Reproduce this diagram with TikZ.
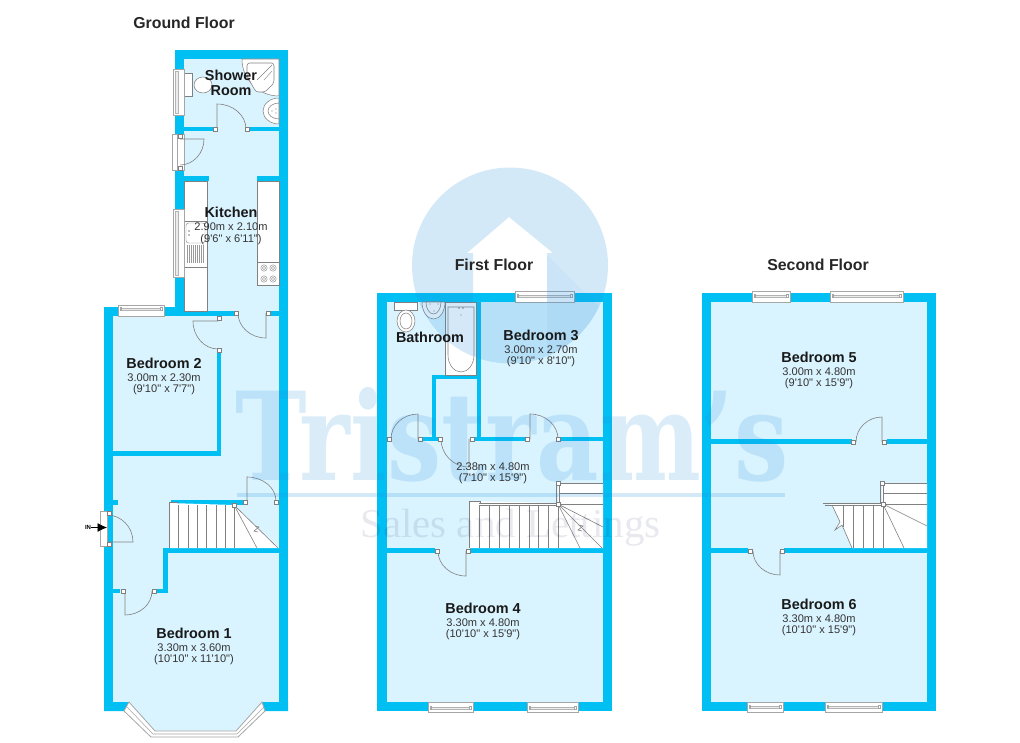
\documentclass[tikz,border=0pt]{standalone}
\usepackage{fontspec}
\usetikzlibrary{arrows.meta}
\newfontfamily\plansans{Liberation Sans}
\newfontfamily\planserif{Liberation Serif}
\newfontfamily\markserif{DejaVu Serif}
\definecolor{roomcol}{HTML}{DAF4FF}
\definecolor{wallcol}{HTML}{00BFF3}
\definecolor{linecol}{HTML}{808080}
\definecolor{markcol}{HTML}{2A8FDC}
\tikzset{
    wallfill/.style={fill=wallcol},
    doorline/.style={draw=linecol,line width=.45pt},
    postbox/.style={draw=linecol,fill=white,line width=.4pt},
    winbox/.style={draw=linecol!70,fill=white,line width=.4pt},
    winbar/.style={draw=linecol!60,fill=gray!15,line width=.3pt},
    fixture/.style={draw=linecol,fill=white,line width=.4pt},
    stairline/.style={draw=linecol,line width=.45pt},
    floortitle/.style={font=\plansans\bfseries\fontsize{11.9}{13}\selectfont,text=black!85},
    roomname/.style={anchor=base,inner sep=0pt,font=\plansans\bfseries\fontsize{10.8}{12}\selectfont,text=black!90},
    roomdim/.style={anchor=base,inner sep=0pt,font=\plansans\fontsize{8.3}{10}\selectfont,text=black!80},
    watermark/.style={fill=markcol,opacity=.2,text=markcol,text opacity=.17},
}
\newcommand{\wall}[2]{\fill[wallfill] #1 rectangle #2;}
\newcommand{\post}[1]{\draw[postbox,shift={#1}] (-2,-2) rectangle (2,2);}
\newcommand{\door}[4]{\draw[doorline,shift={#1}] (0,0) -- (#2:#4) arc (#2:#3:#4);}
\newcommand{\winh}[5]{
    \draw[winbox] (#1,#3) rectangle (#2,#4);
    \draw[winbar] (#1+2,#5-1.2) rectangle (#2-2,#5+1.2);
    \draw[winbox] (#1+2,#5-1.5) rectangle (#1+3.5,#5+1.5);
    \draw[winbox] (#2-3.5,#5-1.5) rectangle (#2-2,#5+1.5);
}
\newcommand{\winv}[5]{
    \draw[winbox] (#1,#3) rectangle (#2,#4);
    \draw[winbar] (#5-1.5,#3+2) rectangle (#5+1.5,#4-2);
}
\newcommand{\roomlabel}[5]{
    \node[roomname] (#1) at #2 {#3};
    \node[roomdim] (#1dim) at ([yshift=-9.9pt]#1.base) {#4};
    \node[roomdim] (#1imp) at ([yshift=-18.4pt]#1.base) {#5};
}
\begin{document}
\begin{tikzpicture}[x=.75pt,y=-.75pt]
    \useasboundingbox (0,0) rectangle (1020,742);

    % floors
    \fill[roomcol] (184,59) -- (279,59) -- (279,702) -- (262,702) -- (236,731) -- (155,731) -- (129,702)
        -- (113,702) -- (113,316) -- (184,316) -- cycle;
    \fill[roomcol] (387,302) rectangle (603,702);
    \fill[roomcol] (711,302) rectangle (927,702);

    % ground floor walls
    \wall{(175,50)}{(288,59)}
    \wall{(279,50)}{(288,711)}
    \wall{(175,50)}{(184,312)}
    \wall{(184,127)}{(213,131)}
    \wall{(248,127)}{(279,131)}
    \wall{(184,176)}{(209,181)}
    \wall{(257,176)}{(279,181)}
    \wall{(104,307)}{(184,316)}
    \wall{(184,311)}{(234,316)}
    \wall{(266,311)}{(279,316)}
    \wall{(104,307)}{(113,702)}
    \wall{(217,316)}{(221,318)}
    \wall{(217,350)}{(221,456)}
    \wall{(113,451)}{(221,456)}
    \wall{(113,500)}{(118,505)}
    \wall{(171,500)}{(247,505)}
    \wall{(163,548)}{(279,553)}
    \wall{(163,548)}{(168,593)}
    \wall{(157,589)}{(168,593)}
    \wall{(113,589)}{(120,593)}
    \fill[wallfill] (104,702) -- (129,702) -- (124,711) -- (104,711) -- cycle;
    \fill[wallfill] (262,702) -- (288,702) -- (288,711) -- (265,711) -- cycle;

    % bay window
    \draw[winbox,line width=.6pt] (129,702) -- (124,711) -- (151,737) -- (238,737) -- (265,711) -- (262,702)
        -- (236,731) -- (155,731) -- cycle;
    \draw[linecol!70,line width=.4pt] (127,707) -- (153,734) -- (237,734) -- (264,707);

    % kitchen
    \draw[fixture] (184,181) rectangle (207,311);
    \draw[fixture] (257,181) rectangle (279,262);
    \draw[fixture] (257,262) rectangle (279,285);
    \foreach \hx/\hy in {264/268,273/268,264/279,273/279} {
        \draw[linecol,line width=.3pt] (\hx,\hy) circle (3.2);
        \draw[linecol,line width=.3pt] (\hx,\hy) circle (1.6);
    }
    \draw[fixture] (184,221) rectangle (207,267);
    \draw[linecol,line width=.3pt,rounded corners=2pt] (186,223) rectangle (205,243);
    \foreach \dx in {187,189,...,203} {
        \draw[linecol!80,line width=.25pt] (\dx,245) -- (\dx,263);
    }
    \fill[linecol] (189,231) circle (.8) (189,235) circle (.8);

    % shower room
    \draw[fixture] (279,59) -- (242,59) arc (180:90:37) -- cycle;
    \draw[fixture,rounded corners=2pt] (247,63) -- (274,63) -- (274,83) -- (265,92) -- (256,92) -- (247,76) -- cycle;
    \draw[linecol,line width=.3pt] (257,80) -- (272,65) (272,71) -- (264,80);
    \draw[fixture] (184,73) rectangle (192,96);
    \draw[fixture] (203,85) ellipse (9 and 8);
    \draw[fixture] (279,98) arc (270:90:16 and 13) -- cycle;
    \draw[fixture] (279,103) arc (270:90:11 and 8) -- cycle;
    \fill[linecol] (276,109) circle (.7) (276,113) circle (.7) (272,111) circle (.6);

    % ground floor windows and frames
    \winv{173}{184}{69}{115}{177}
    \winv{173}{184}{209}{277}{177}
    \winh{118}{164}{305}{316}{309}
    \draw[winbox] (172,134) rectangle (177,170);
    \draw[winbox] (177,134) rectangle (184,170);
    \draw[winbox] (100,511) rectangle (107,546);

    % ground floor stairs
    \fill[white] (169,503) -- (234,505) -- (279,548) -- (169,548) -- cycle;
    \draw[stairline] (169,548) -- (169,502) -- (178,502);
    \foreach \sx in {178,188,197,206,216,225,234} {
        \draw[stairline] (\sx,505) -- (\sx,548);
    }
    \draw[stairline] (234,505) -- (257,548) (234,505) -- (278,548);
    \draw[stairline] (255,526) -- (259,527) -- (254,531) -- (258,532);
    \post{(234.5,505)}

    % ground floor doors
    \door{(217,129)}{270}{360}{29 and 25}
    \door{(180,139)}{0}{90}{24 and 26}
    \door{(266,313)}{90}{180}{28 and 25}
    \door{(218,321)}{180}{90}{25 and 28}
    \door{(247,501)}{270}{360}{29 and 24}
    \door{(107,542)}{0}{-90}{26 and 27}
    \door{(125,591)}{90}{0}{27 and 24}
    \foreach \p in {(215,129),(247,129),(236,313),(268,313),(219,318),(219,350),(245,502),(276,502),
        (109,513),(109,544),(123,591),(154,591),(180,136),(180,168)} {
        \post{\p}
    }

    % first floor walls
    \wall{(377,293)}{(612,302)}
    \wall{(377,293)}{(387,711)}
    \wall{(603,293)}{(612,711)}
    \wall{(377,702)}{(612,711)}
    \wall{(432,375)}{(481,379)}
    \wall{(432,375)}{(436,441)}
    \wall{(477,302)}{(481,441)}
    \wall{(422,437)}{(438,441)}
    \wall{(472,437)}{(527,441)}
    \wall{(560,437)}{(603,441)}
    \wall{(387,548)}{(435,553)}
    \wall{(470,548)}{(603,553)}

    % bathroom
    \draw[fixture] (445,302) rectangle (476,375);
    \draw[fixture] (448,307) -- (474,307) -- (474,355) arc (0:180:13 and 17) -- cycle;
    \fill[linecol] (459,308) circle (.9) (463,308) circle (.9) (461,315) circle (.7);
    \draw[fixture] (394,302) rectangle (417,310);
    \draw[fixture] (406,321) ellipse (9 and 11);
    \draw[fixture] (406,321) ellipse (6 and 8);
    \draw[fixture] (422,302) arc (180:0:11.5 and 17) -- cycle;
    \draw[fixture] (426,302) arc (180:0:7.5 and 12) -- cycle;
    \fill[linecol] (430,304) circle (.7) (438,304) circle (.7) (434,311) circle (.6);

    % first floor windows
    \winh{515}{574}{291}{302}{296}
    \winh{428}{473}{702}{712}{708}
    \winh{527}{578}{702}{712}{708}

    % first floor stairs
    \fill[white] (469,501) -- (558,503) -- (558,483) -- (603,483) -- (603,548) -- (469,548) -- cycle;
    \draw[stairline] (469,548) -- (469,501) -- (480,501) -- (480,504);
    \draw[stairline] (479,503) -- (558,503) (479,505) -- (558,505);
    \foreach \sx in {479,489,499,509,519,529,538,548,558} {
        \draw[stairline] (\sx,505) -- (\sx,548);
    }
    \draw[stairline] (558,483) -- (603,483) (560,493) -- (603,493) (558,504) -- (603,504);
    \draw[stairline] (556.5,483) -- (556.5,504) (559.5,483) -- (559.5,504);
    \draw[stairline] (558,504) -- (603,527) (558,504) -- (602,548) (558,504) -- (580,548);
    \draw[stairline] (579,525) -- (583,526) -- (578,530) -- (582,531);
    \post{(558,483)}
    \post{(558,504)}

    % first floor doors
    \door{(418,439)}{270}{180}{27 and 25}
    \door{(469,439)}{90}{180}{28 and 28}
    \door{(530,439)}{270}{360}{28 and 25}
    \door{(466,551)}{90}{180}{28 and 25}
    \foreach \p in {(389,439),(420,439),(440,439),(472,439),(527,439),(558,439),(437,551),(468,551)} {
        \post{\p}
    }

    % second floor walls
    \wall{(702,293)}{(936,302)}
    \wall{(702,293)}{(711,711)}
    \wall{(927,293)}{(936,711)}
    \wall{(702,702)}{(936,711)}
    \wall{(711,439)}{(852,444)}
    \wall{(887,439)}{(927,444)}
    \wall{(711,548)}{(748,553)}
    \wall{(784,548)}{(927,553)}

    % second floor windows
    \winh{752}{790}{291}{302}{296}
    \winh{830}{903}{291}{302}{296}
    \winh{747}{783}{702}{712}{707}
    \winh{825}{882}{702}{712}{707}

    % second floor stairs
    \fill[white] (823,503) -- (882,503) -- (882,483) -- (927,483) -- (927,548) -- (852,548)
        -- (842,525) -- (835,530) -- (840,522) -- (832,505) -- cycle;
    \draw[stairline] (823,503) -- (882,503) (825,505) -- (882,505);
    \draw[stairline] (832,505) -- (840,522) -- (835,530) -- (842,525) -- (852,548);
    \foreach \sx/\sy in {843/527,853/548,863/548,873/548,883/548} {
        \draw[stairline] (\sx,505) -- (\sx,\sy);
    }
    \draw[stairline] (882,483) -- (927,483) (884,493) -- (927,493) (882,504) -- (927,504);
    \draw[stairline] (880.5,483) -- (880.5,504) (883.5,483) -- (883.5,504);
    \draw[stairline] (883,504) -- (927,526) (883,504) -- (904,548);
    \post{(882,483)}
    \post{(883,504)}

    % second floor doors
    \door{(882,442)}{270}{180}{26 and 25}
    \door{(780,551)}{90}{180}{27 and 24}
    \foreach \p in {(853,442),(884,442),(750,551),(782,551)} {
        \post{\p}
    }

    % logo over the plans
    \fill[watermark,even odd rule] (510,265.5) circle (98)
        (509,217) -- (553,253) -- (547,253) -- (547,302) -- (473,302) -- (473,253) -- (467,253) -- cycle;
    \begin{scope}
        \clip (510,265.5) circle (98);
        \fill[markcol,opacity=.05] (547,255) -- (625,333) -- (625,380) -- (547,380) -- cycle;
    \end{scope}
    \node[watermark,fill=none,inner sep=0pt,anchor=base west,xscale=.785,
        font=\markserif\bfseries\fontsize{92}{92}\selectfont] (logoname) at (235,480) {Tristram’s};
    \fill[watermark] (237,493) rectangle (785,497);
    \node[inner sep=0pt,anchor=base west,text=black!70!blue,text opacity=.09,
        font=\planserif\fontsize{30.7}{32}\selectfont] (logotag) at (360,537) {Sales and Lettings};

    % entrance
    \node[inner sep=0pt,font=\plansans\bfseries\fontsize{4.5}{5}\selectfont] (inlabel) at (88,527.5) {IN};
    \coordinate (inTip) at (107,527.5);
    \draw[black,line width=.4pt,-{Latex[length=7pt,width=6.5pt]}] (inlabel) -- (inTip);

    % titles
    \node[floortitle] (groundtitle) at (184,23) {Ground Floor};
    \node[floortitle] (firsttitle) at (494,265) {First Floor};
    \node[floortitle] (secondtitle) at (818,265) {Second Floor};

    % rooms
    \node[roomname] (shower) at (231,80) {Shower};
    \node[roomname] (showerb) at (231,95) {Room};
    \roomlabel{kitchen}{(231,217.5)}{Kitchen}{2.90m x 2.10m}{(9'6" x 6'11")}
    \roomlabel{bedtwo}{(164,368)}{Bedroom 2}{3.00m x 2.30m}{(9'10" x 7'7")}
    \roomlabel{bedone}{(194,638)}{Bedroom 1}{3.30m x 3.60m}{(10'10" x 11'10")}
    \node[roomname] (bathroom) at (430,342) {Bathroom};
    \roomlabel{bedthree}{(541,340)}{Bedroom 3}{3.00m x 2.70m}{(9'10" x 8'10")}
    \node[roomdim] (landdim) at (493,470) {2.38m x 4.80m};
    \node[roomdim] (landimp) at (493,481) {(7'10" x 15'9")};
    \roomlabel{bedfour}{(483,613)}{Bedroom 4}{3.30m x 4.80m}{(10'10" x 15'9")}
    \roomlabel{bedfive}{(819,362)}{Bedroom 5}{3.00m x 4.80m}{(9'10" x 15'9")}
    \roomlabel{bedsix}{(819,609)}{Bedroom 6}{3.30m x 4.80m}{(10'10" x 15'9")}
\end{tikzpicture}
\end{document}
